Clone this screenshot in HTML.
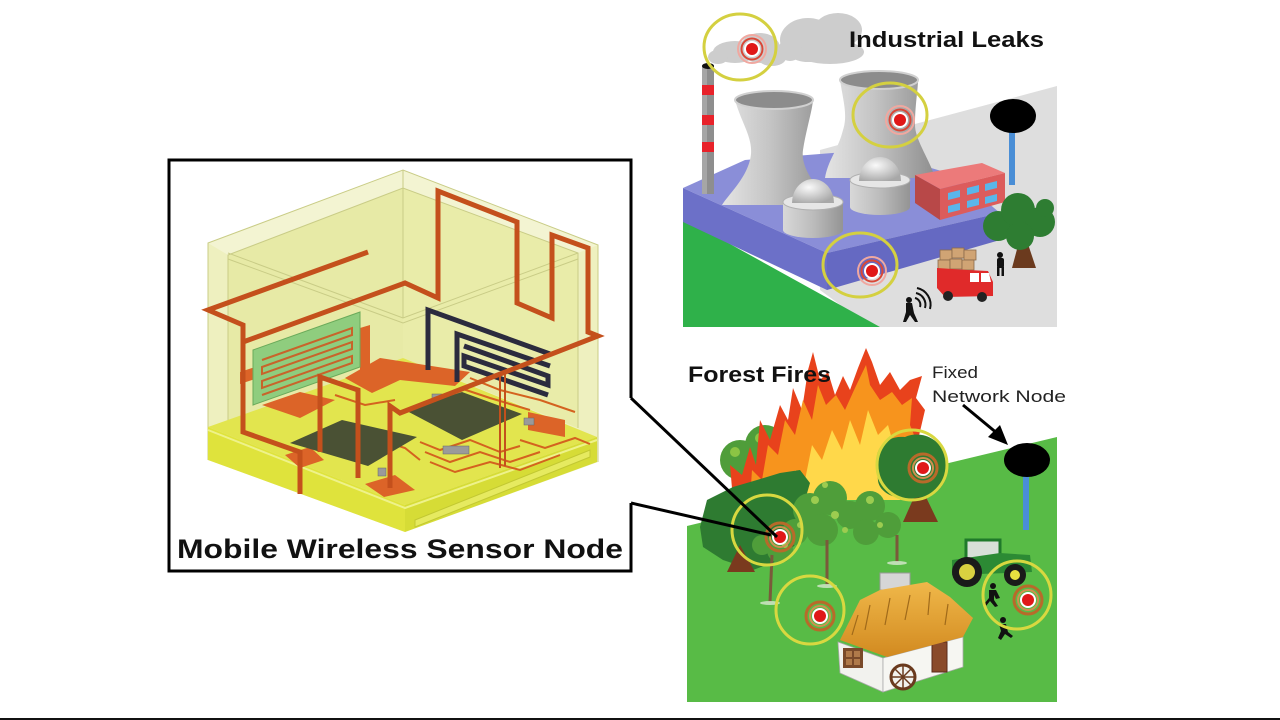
<!DOCTYPE html>
<html><head><meta charset="utf-8"><style>
html,body{margin:0;padding:0;background:#fff;}
svg{display:block;}
text{font-family:"Liberation Sans",Arial,sans-serif;}
</style></head><body>
<svg width="1280" height="720" viewBox="0 0 1280 720" xmlns="http://www.w3.org/2000/svg">
<defs>
<linearGradient id="tw" x1="0" x2="1" y1="0" y2="0"><stop offset="0" stop-color="#e4e4e4"/><stop offset=".45" stop-color="#c4c4c4"/><stop offset="1" stop-color="#8e8e8e"/></linearGradient>
<linearGradient id="cy" x1="0" x2="1" y1="0" y2="0"><stop offset="0" stop-color="#d8d8d8"/><stop offset=".5" stop-color="#bcbcbc"/><stop offset="1" stop-color="#949494"/></linearGradient>
<radialGradient id="dm" cx=".4" cy=".35" r=".7"><stop offset="0" stop-color="#fafafa"/><stop offset="1" stop-color="#a8a8a8"/></radialGradient>
<linearGradient id="roof" x1="0" x2="0" y1="0" y2="1"><stop offset="0" stop-color="#f0b84a"/><stop offset="1" stop-color="#d28a20"/></linearGradient>
</defs>
<rect width="1280" height="720" fill="#fff"/>
<rect x="0" y="718" width="1280" height="2" fill="#111"/>

<!-- ================= CUBE ================= -->
<polygon points="208,243 403,170 598,245 598,462 405,532 208,460" fill="#eef0bf"/>
<polygon points="228,255 403,188 403,358 228,422" fill="#e7eaa6"/>
<polygon points="403,188 578,253 578,428 403,358" fill="#e9eca9"/>
<polygon points="208,243 403,170 598,245 578,253 403,188 228,255" fill="#f3f4d2"/>
<g stroke="#c9cc86" stroke-width="1" fill="none">
<polyline points="208,460 208,243 403,170 598,245 598,462"/>
<polyline points="228,422 228,255 403,188 578,253 578,428"/>
<polyline points="228,253 403,318 578,253"/>
<polyline points="228,259 403,323 578,259"/>
<line x1="403" y1="170" x2="403" y2="318"/>
</g>
<!-- base -->
<polygon points="208,427 403,358 597,437 405,505" fill="#e2e54e"/>
<polygon points="208,427 405,505 405,532 208,460" fill="#dfe33c"/>
<polygon points="405,505 597,437 597,462 405,532" fill="#d6dc36"/>
<polyline points="208,430 405,508 597,440" fill="none" stroke="#eef28a" stroke-width="2"/>
<polygon points="415,520 590,450 590,457 415,527" fill="#e6ea60" stroke="#c2c832" stroke-width="1"/>
<!-- floor pads -->
<g fill="#dc6428">
<polygon points="262,405 300,392 335,400 300,418"/>
<polygon points="345,378 380,358 470,372 455,386 400,380 372,393"/>
<polygon points="285,455 310,447 324,460 300,468"/>
<polygon points="365,484 395,475 415,490 384,497"/>
<polygon points="528,412 565,420 565,437 528,430"/>
<polygon points="360,328 370,325 370,366 360,370"/>
<polygon points="240,372 258,366 258,378 240,384"/>
</g>
<g fill="none" stroke="#d4621f" stroke-width="2">
<path d="M420,442 L440,450 L470,440 L500,452 L520,446"/>
<path d="M425,452 L450,462 L480,452 L510,462 L540,452"/>
<path d="M430,462 L455,472 L490,462 L520,470 L560,455"/>
<path d="M470,378 L500,390 L540,400 L575,412"/>
<path d="M460,388 L490,398 L530,410"/>
<path d="M380,440 L405,448 L420,460"/>
<path d="M520,440 L545,448 L575,438 L590,444"/>
<path d="M335,395 L365,405 L395,400"/>
</g>
<!-- chips -->
<polygon points="290,443 342,420 417,437 368,466" fill="#4a5134"/>
<polygon points="405,410 462,392 522,414 462,440" fill="#4a5134"/>
<g fill="#9a9a9a" stroke="#666" stroke-width=".5">
<rect x="443" y="446" width="26" height="8"/><rect x="378" y="468" width="8" height="8"/><rect x="524" y="418" width="10" height="7"/><rect x="432" y="394" width="10" height="5"/>
</g>
<!-- green sensor -->
<polygon points="253,350 360,312 360,367 253,405" fill="#8fcd7e" stroke="#6aaa5a" stroke-width="1"/>
<g stroke="#c8642a" stroke-width="2" fill="none">
<polyline points="262,360 352,328 352,335 262,367 262,374 352,342 352,349 262,381 262,388 352,356 352,363 262,395"/>
</g>
<!-- black sensor -->
<g stroke="#2b2b3e" stroke-width="5" fill="none">
<polyline points="428,370 428,310 550,354"/>
<polyline points="457,382 457,334 550,366"/>
<polyline points="464,346 548,376 548,385 464,356 464,366 548,395"/>
</g>
<!-- traces -->
<g stroke="#c4501c" stroke-width="5" fill="none" stroke-linejoin="miter">
<polyline points="368,252 208,310 243,325 243,432 300,452 300,494"/>
<polyline points="243,342 405,283 438,298 438,191 517,222 517,303 552,318 552,235 588,248 588,332 598,336 400,413 390,406 390,488"/>
<polyline points="320,452 320,377 358,390 358,478"/>
</g>
<g stroke="#c4501c" stroke-width="2"><line x1="500" y1="373" x2="500" y2="468"/><line x1="505" y1="371" x2="505" y2="466"/></g>

<!-- box outline -->
<path d="M631,398 L631,160 L169,160 L169,571 L631,571 L631,503" fill="none" stroke="#000" stroke-width="3"/>
<text x="177" y="558" font-size="27" font-weight="bold" textLength="446" lengthAdjust="spacingAndGlyphs" fill="#111">Mobile Wireless Sensor Node</text>

<!-- ================= INDUSTRIAL ================= -->
<polygon points="900,128 1057,86 1057,327 870,327 820,290 820,150" fill="#dedede"/>
<polygon points="683,218 880,327 683,327" fill="#2fb14a"/>
<polygon points="683,188 745,160 870,150 955,175 1000,213 827,253" fill="#8a8ed8"/>
<polygon points="683,188 827,253 827,290 683,222" fill="#6c70c8"/>
<polygon points="827,253 1000,213 1000,240 827,290" fill="#6569c2"/>
<!-- clouds -->
<g fill="#cdcdcd">
<ellipse cx="808" cy="40" rx="28" ry="22"/><ellipse cx="838" cy="30" rx="24" ry="17"/><ellipse cx="830" cy="52" rx="34" ry="12"/><ellipse cx="790" cy="50" rx="12" ry="11"/>
<ellipse cx="735" cy="52" rx="22" ry="11"/><ellipse cx="760" cy="48" rx="20" ry="15"/><ellipse cx="772" cy="58" rx="14" ry="8"/><ellipse cx="718" cy="57" rx="10" ry="7"/>
</g>
<!-- chimney -->
<rect x="702" y="66" width="12" height="128" fill="#8e8e8e"/>
<rect x="702" y="66" width="5" height="128" fill="#a6a6a6"/>
<g fill="#e8222a"><rect x="702" y="85" width="12" height="10"/><rect x="702" y="115" width="12" height="10"/><rect x="702" y="142" width="12" height="10"/></g>
<ellipse cx="708" cy="66" rx="6" ry="3" fill="#111"/>
<!-- tower 1 -->
<path d="M735,100 C742,125 755,140 750,160 C745,180 728,195 722,205 L830,205 C820,190 800,170 803,150 C806,130 812,112 813,100 Z" fill="url(#tw)"/>
<ellipse cx="774" cy="100" rx="39" ry="9" fill="#8c8c8c" stroke="#d0d0d0" stroke-width="2"/>
<!-- tower 2 -->
<path d="M840,80 C843,100 848,115 843,130 C838,150 828,160 825,178 L935,178 C930,160 915,140 915,125 C915,105 918,90 918,80 Z" fill="url(#tw)"/>
<ellipse cx="879" cy="80" rx="39" ry="9" fill="#8c8c8c" stroke="#d0d0d0" stroke-width="2"/>
<!-- domes -->
<path d="M850,180 L850,207 A30,8 0 0 0 910,207 L910,180 Z" fill="url(#cy)"/>
<ellipse cx="880" cy="180" rx="30" ry="8" fill="#e6e6e6" stroke="#b0b0b0"/>
<path d="M859,181 A21,24 0 0 1 901,181 Z" fill="url(#dm)"/>
<path d="M783,202 L783,230 A30,8 0 0 0 843,230 L843,202 Z" fill="url(#cy)"/>
<ellipse cx="813" cy="202" rx="30" ry="8" fill="#e6e6e6" stroke="#b0b0b0"/>
<path d="M792,203 A21,24 0 0 1 834,203 Z" fill="url(#dm)"/>
<!-- building -->
<polygon points="915,175 982,163 1005,173 940,189" fill="#ec7a7a"/>
<polygon points="915,175 940,189 940,220 915,203" fill="#b84848"/>
<polygon points="940,189 1005,173 1005,202 940,220" fill="#dc5c5c"/>
<g fill="#5ab6ea">
<polygon points="948,193 960,190 960,197 948,200"/><polygon points="967,188 979,185 979,192 967,195"/><polygon points="985,184 997,181 997,188 985,191"/>
<polygon points="948,206 960,203 960,210 948,213"/><polygon points="967,201 979,198 979,205 967,208"/><polygon points="985,197 997,194 997,201 985,204"/>
</g>
<!-- fixed node 1 -->
<rect x="1009" y="130" width="6" height="55" fill="#4a8ed6"/>
<ellipse cx="1013" cy="116" rx="23" ry="17" fill="#000"/>
<!-- tree -->
<path d="M1012,268 L1020,238 L1026,238 L1036,268 Z" fill="#6b3a1e"/>
<g fill="#2e7d32"><circle cx="998" cy="226" r="15"/><circle cx="1018" cy="210" r="17"/><circle cx="1040" cy="222" r="15"/><circle cx="1020" cy="236" r="14"/><circle cx="1045" cy="208" r="9"/></g>
<!-- truck -->
<g fill="#d0a474" stroke="#8a6a4a" stroke-width=".8">
<rect x="940" y="250" width="12" height="10"/><rect x="952" y="248" width="12" height="10"/><rect x="964" y="250" width="12" height="10"/>
<rect x="938" y="260" width="12" height="10"/><rect x="950" y="259" width="12" height="10"/><rect x="962" y="260" width="12" height="10"/>
</g>
<path d="M937,268 L968,270 L988,271 L993,282 L993,296 L945,297 L937,288 Z" fill="#e02a2a"/>
<path d="M970,273 L979,273 L979,282 L970,282 Z M981,273 L989,273 L991,282 L981,282 Z" fill="#fff"/>
<circle cx="948" cy="296" r="5" fill="#222"/><circle cx="982" cy="297" r="5" fill="#222"/>
<!-- people -->
<g fill="#111">
<circle cx="1000" cy="255" r="3"/><rect x="997" y="258" width="7" height="10" rx="2"/><rect x="997" y="267" width="2.5" height="9"/><rect x="1001.5" y="267" width="2.5" height="9"/>
<circle cx="909" cy="300" r="3"/><path d="M906,303 L912,303 L914,313 L918,322 L915,322 L910,315 L906,322 L903,322 L906,312 Z"/>
</g>
<g fill="none" stroke="#111" stroke-width="2">
<path d="M915,298 A7,7 0 0 1 920,307"/><path d="M916,293 A12,12 0 0 1 925,308"/><path d="M917,288 A17,17 0 0 1 930,309"/>
</g>
<!-- rings industrial -->
<g fill="none" stroke="#d4d040" stroke-width="3">
<ellipse cx="740" cy="47" rx="36" ry="33"/><ellipse cx="890" cy="115" rx="37" ry="32"/><ellipse cx="860" cy="265" rx="37" ry="32"/>
</g>
<g>
<g transform="translate(752,49)"><circle r="14" fill="none" stroke="#f0a8a0" stroke-width="2"/><circle r="10.5" fill="none" stroke="#d84838" stroke-width="2"/><circle r="8" fill="#fff"/><circle r="6" fill="#e01818"/></g>
<g transform="translate(900,120)"><circle r="14" fill="none" stroke="#f0a8a0" stroke-width="2"/><circle r="10.5" fill="none" stroke="#d84838" stroke-width="2"/><circle r="8" fill="#fff"/><circle r="6" fill="#e01818"/></g>
<g transform="translate(872,271)"><circle r="14" fill="none" stroke="#f0a8a0" stroke-width="2"/><circle r="10.5" fill="none" stroke="#d84838" stroke-width="2"/><circle r="8" fill="#fff"/><circle r="6" fill="#e01818"/></g>
</g>
<text x="849" y="47" font-size="22" font-weight="bold" textLength="195" lengthAdjust="spacingAndGlyphs" fill="#111">Industrial Leaks</text>

<!-- ================= FOREST ================= -->
<polygon points="687,526 1057,437 1057,702 687,702" fill="#58bb46"/>
<!-- back tree -->
<g fill="#4f9d3a"><circle cx="740" cy="460" r="20"/><circle cx="765" cy="445" r="20"/><circle cx="785" cy="458" r="17"/><circle cx="752" cy="478" r="15"/></g>
<g fill="#8cc444"><circle cx="735" cy="452" r="5"/><circle cx="760" cy="438" r="5"/><circle cx="780" cy="450" r="4"/><circle cx="750" cy="470" r="4"/></g>
<!-- flames -->
<path d="M733,500 L730,465 L742,475 L750,447 L756,465 L760,420 L770,440 L780,405 L788,420 L793,388 L802,410 L808,370 L813,352 L820,380 L828,372 L835,395 L843,376 L850,390 L858,368 L866,348 L872,362 L880,385 L890,372 L900,390 L910,380 L922,376 L916,398 L925,410 L918,440 L925,470 L910,500 Z" fill="#e8421c"/>
<path d="M750,500 L752,470 L762,480 L768,445 L778,455 L785,420 L795,435 L803,400 L812,420 L818,385 L826,405 L836,395 L845,410 L855,388 L866,365 L870,385 L880,400 L892,392 L902,405 L912,398 L910,425 L918,445 L908,500 Z" fill="#f7941d"/>
<path d="M790,500 L795,470 L805,480 L812,445 L822,460 L832,430 L842,450 L850,420 L860,445 L868,410 L878,435 L888,425 L895,450 L900,500 Z" fill="#ffd84a"/>
<!-- front trees -->
<polygon points="700,527 707,500 733,487 757,480 780,473 800,470 810,483 803,507 800,540 780,560 753,570 723,560 703,547" fill="#2e7b31"/>
<polygon points="727,572 740,545 755,572" fill="#7a3a1e"/>
<g fill="#4f9e3a"><circle cx="810" cy="510" r="17"/><circle cx="830" cy="498" r="17"/><circle cx="850" cy="515" r="14"/><circle cx="822" cy="530" r="16"/><circle cx="795" cy="532" r="13"/><circle cx="870" cy="506" r="15"/><circle cx="888" cy="525" r="13"/><circle cx="866" cy="532" r="13"/><circle cx="780" cy="550" r="13"/><circle cx="762" cy="545" r="10"/></g>
<g fill="#9ccc50"><circle cx="815" cy="500" r="4"/><circle cx="835" cy="515" r="4"/><circle cx="800" cy="525" r="3"/><circle cx="870" cy="500" r="4"/><circle cx="880" cy="525" r="3"/><circle cx="785" cy="545" r="3"/><circle cx="845" cy="530" r="3"/><circle cx="825" cy="485" r="3"/></g>
<g stroke="#7a5a3a" stroke-width="3"><line x1="772" y1="555" x2="770" y2="602"/><line x1="827" y1="540" x2="827" y2="585"/><line x1="897" y1="535" x2="897" y2="562"/></g>
<g fill="#d8e8d0" opacity=".8"><ellipse cx="770" cy="603" rx="10" ry="2"/><ellipse cx="827" cy="586" rx="10" ry="2"/><ellipse cx="897" cy="563" rx="10" ry="2"/></g>
<!-- right tree -->
<path d="M903,522 L915,495 L925,495 L938,522 Z" fill="#7a3a1e"/>
<path d="M878,470 C872,450 885,435 905,437 C920,430 940,438 945,455 C952,470 945,490 930,495 C915,500 895,500 885,492 C876,485 878,478 878,470 Z" fill="#2e7b31"/>
<!-- house -->
<rect x="880" y="573" width="30" height="17" fill="#d6d6d6" stroke="#9a9a9a"/>
<polygon points="838,642 883,658 883,692 840,673" fill="#f2f2ee" stroke="#aaa" stroke-width=".8"/>
<polygon points="883,658 963,637 963,667 883,692" fill="#f6f6f2" stroke="#aaa" stroke-width=".8"/>
<rect x="843" y="648" width="20" height="20" fill="#7a4a2a"/><rect x="846" y="651" width="6" height="6" fill="#b07a4a"/><rect x="854" y="651" width="6" height="6" fill="#b07a4a"/><rect x="846" y="659" width="6" height="6" fill="#b07a4a"/><rect x="854" y="659" width="6" height="6" fill="#b07a4a"/>
<rect x="932" y="642" width="15" height="30" fill="#8a4a2a" stroke="#5a2a1a"/>
<circle cx="903" cy="677" r="12" fill="#f2f2ee" stroke="#6a3a1e" stroke-width="3"/>
<g stroke="#6a3a1e" stroke-width="1.5"><line x1="891" y1="677" x2="915" y2="677"/><line x1="903" y1="665" x2="903" y2="689"/><line x1="895" y1="669" x2="911" y2="685"/><line x1="895" y1="685" x2="911" y2="669"/></g>
<polygon points="840,640 860,600 880,590 927,582 950,597 973,618 963,637 887,657" fill="url(#roof)"/>
<g stroke="#a06a1a" stroke-width="1.2"><line x1="870" y1="605" x2="865" y2="630"/><line x1="890" y1="598" x2="885" y2="625"/><line x1="910" y1="595" x2="905" y2="620"/><line x1="930" y1="592" x2="928" y2="615"/><line x1="948" y1="604" x2="945" y2="625"/><line x1="858" y1="615" x2="852" y2="635"/></g>
<!-- tractor -->
<rect x="966" y="540" width="34" height="24" fill="#d8e0d8" stroke="#1f7a2a" stroke-width="3"/>
<path d="M952,560 L1000,553 L1030,555 L1032,572 L952,575 Z" fill="#2c8a34"/>
<circle cx="967" cy="572" r="15" fill="#1a1a1a"/><circle cx="967" cy="572" r="8" fill="#d8d040"/>
<circle cx="1015" cy="575" r="11" fill="#1a1a1a"/><circle cx="1015" cy="575" r="5" fill="#e8e040"/>
<!-- runners -->
<g fill="#111">
<circle cx="993" cy="586" r="3"/><path d="M989,590 L996,590 L1000,598 L996,599 L994,595 L994,600 L998,606 L995,607 L990,601 L986,606 L984,604 L989,598 Z"/>
<circle cx="1003" cy="620" r="3"/><path d="M999,624 L1006,624 L1008,632 L1013,636 L1011,638 L1005,634 L1001,640 L998,638 L1001,631 Z"/>
</g>
<!-- fixed node 2 -->
<rect x="1023" y="476" width="6" height="54" fill="#4a8ed6"/>
<ellipse cx="1027" cy="460" rx="23" ry="17" fill="#000"/>
<!-- rings forest -->
<g fill="none" stroke="#d8d840" stroke-width="3">
<circle cx="767" cy="530" r="35"/><circle cx="912" cy="465" r="35"/><circle cx="810" cy="610" r="34"/><circle cx="1017" cy="595" r="34"/>
</g>
<g>
<g transform="translate(780,537)"><circle r="14" fill="none" stroke="#b86a2a" stroke-width="3"/><circle r="10" fill="none" stroke="#d09050" stroke-width="2"/><circle r="8" fill="#fff"/><circle r="6" fill="#e01818"/></g>
<g transform="translate(923,468)"><circle r="14" fill="none" stroke="#b86a2a" stroke-width="3"/><circle r="10" fill="none" stroke="#d09050" stroke-width="2"/><circle r="8" fill="#fff"/><circle r="6" fill="#e01818"/></g>
<g transform="translate(820,616)"><circle r="14" fill="none" stroke="#b86a2a" stroke-width="3"/><circle r="10" fill="none" stroke="#d09050" stroke-width="2"/><circle r="8" fill="#fff"/><circle r="6" fill="#e01818"/></g>
<g transform="translate(1028,600)"><circle r="14" fill="none" stroke="#b86a2a" stroke-width="3"/><circle r="10" fill="none" stroke="#d09050" stroke-width="2"/><circle r="8" fill="#fff"/><circle r="6" fill="#e01818"/></g>
</g>
<text x="688" y="382" font-size="22" font-weight="bold" textLength="143" lengthAdjust="spacingAndGlyphs" fill="#111">Forest Fires</text>
<text x="932" y="378" font-size="17" textLength="46" lengthAdjust="spacingAndGlyphs" fill="#222">Fixed</text>
<text x="932" y="402" font-size="17" textLength="134" lengthAdjust="spacingAndGlyphs" fill="#222">Network Node</text>
<!-- arrow -->
<line x1="963" y1="405" x2="998" y2="434" stroke="#000" stroke-width="3"/>
<polygon points="1008,445 988,437 1000,425" fill="#000"/>

<!-- connectors -->
<line x1="631" y1="398" x2="777" y2="537" stroke="#000" stroke-width="3"/>
<line x1="631" y1="503" x2="771" y2="535" stroke="#000" stroke-width="3"/>
</svg>
</body></html>
